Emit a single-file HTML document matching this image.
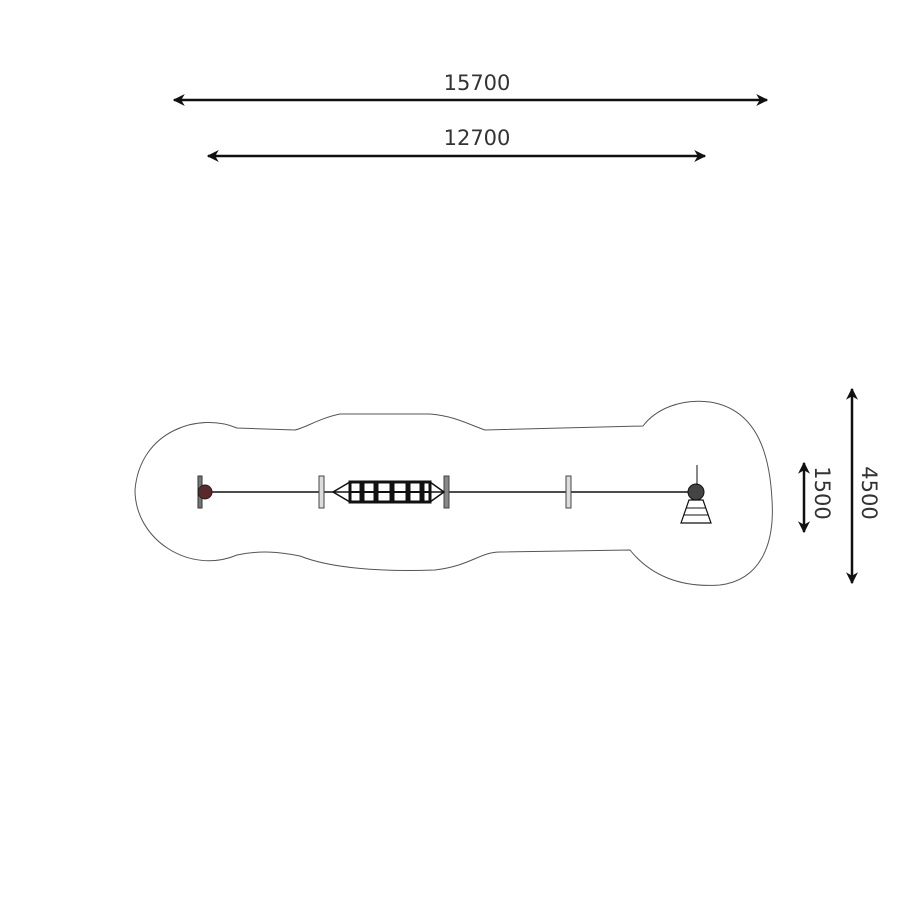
<!DOCTYPE html>
<html><head><style>body{margin:0;background:#fff}svg{display:block}</style></head><body>
<svg width="900" height="900" viewBox="0 0 900 900" xmlns="http://www.w3.org/2000/svg">
<defs>
<marker id="a" viewBox="0 0 10 10" refX="9" refY="5" markerWidth="12" markerHeight="12" orient="auto-start-reverse" markerUnits="userSpaceOnUse"><path d="M0,0 L10,5 L0,10 L3,5 Z" fill="#111"/></marker>
</defs>
<g font-family="'DejaVu Sans','Liberation Sans',sans-serif" font-size="21" fill="#333">
<text x="477" y="90" text-anchor="middle">15700</text>
<text x="477" y="145" text-anchor="middle">12700</text>
<text transform="translate(862,493) rotate(90)" text-anchor="middle">4500</text>
<text transform="translate(815,493) rotate(90)" text-anchor="middle">1500</text>
</g>
<g stroke="#111" stroke-width="2.5" fill="none">
<line x1="174" y1="100" x2="767" y2="100" marker-start="url(#a)" marker-end="url(#a)"/>
<line x1="208" y1="156" x2="705" y2="156" marker-start="url(#a)" marker-end="url(#a)"/>
<line x1="852" y1="389" x2="852" y2="583" marker-start="url(#a)" marker-end="url(#a)"/>
<line x1="804" y1="463" x2="804" y2="532" marker-start="url(#a)" marker-end="url(#a)"/>
</g>
<path d="M237 428 C200 412,140 430,135 490 C135 540,190 575,237 555 C260 550,280 552,300 556 C330 568,380 572,435 570 C470 566,480 552,500 552 L630 550 C650 575,680 588,720 585 C760 580,775 545,772 500 C770 460,760 410,710 402 C680 398,655 410,643 426 L485 430 C470 425,455 416,430 414 L340 414 C320 418,305 428,295 430 Z" fill="none" stroke="#555" stroke-width="1"/>
<g stroke="#111" fill="none">
<line x1="200" y1="492" x2="693" y2="492" stroke-width="1.5"/>
<rect x="198" y="476" width="4" height="32" fill="#777" stroke="#333"/>
<circle cx="205" cy="492" r="7" fill="#5a2a2a" stroke="#222"/>
<rect x="319" y="476" width="5" height="32" fill="#ddd" stroke="#444"/>
<rect x="444" y="476" width="5" height="32" fill="#888" stroke="#444"/>
<rect x="566" y="476" width="5" height="32" fill="#ddd" stroke="#444"/>
<path d="M333 492 L350 482 L430 482 L444 492 L430 502 L350 502 Z" stroke-width="1.5"/>
<rect x="350" y="482" width="80" height="20" stroke-width="3"/>
<line x1="350" y1="492" x2="430" y2="492" stroke-width="2"/>
<g stroke-width="5"><line x1="362" y1="482" x2="362" y2="502"/><line x1="376" y1="482" x2="376" y2="502"/><line x1="392" y1="482" x2="392" y2="502"/><line x1="408" y1="482" x2="408" y2="502"/><line x1="422" y1="482" x2="422" y2="502"/></g>
<circle cx="696" cy="492" r="8" fill="#444" stroke="#111"/>
<line x1="697" y1="465" x2="697" y2="485" stroke-width="1"/>
<path d="M681 523 L711 523 L703 500 L689 500 Z" stroke-width="1.2"/>
<line x1="684" y1="515" x2="708" y2="515"/><line x1="686" y1="508" x2="706" y2="508"/>
</g>
</svg>
</body></html>
